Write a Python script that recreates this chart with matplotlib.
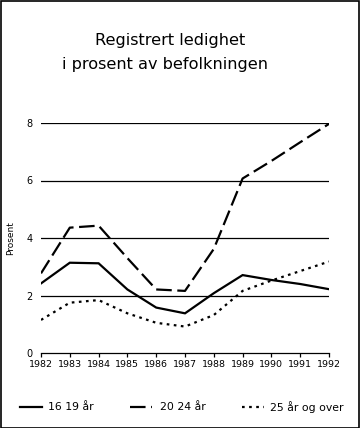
import matplotlib
matplotlib.use("Agg")
import matplotlib.pyplot as plt
from matplotlib.lines import Line2D
from matplotlib.patches import Rectangle

years = [1982, 1983, 1984, 1985, 1986, 1987, 1988, 1989, 1990, 1991, 1992]
age_16_19 = [2.42, 3.14, 3.12, 2.21, 1.58, 1.38, 2.08, 2.71, 2.54, 2.40, 2.22]
age_20_24 = [2.77, 4.36, 4.43, 3.30, 2.21, 2.16, 3.62, 6.07, 6.68, 7.33, 7.97]
age_25_over = [1.15, 1.75, 1.84, 1.38, 1.05, 0.92, 1.32, 2.16, 2.52, 2.85, 3.18]
labels = ["16 19 år", "20 24 år", "25 år og over"]
yticks = [0, 2, 4, 6, 8]

plt.rcParams['font.family'] = ['DejaVu Sans']

fig = plt.figure(figsize=(3.6, 4.28), dpi=100)
W, H = 360, 428
ax = fig.add_axes([41 / W, 1 - 353 / H, (329 - 41) / W, (353 - 123) / H])

styles = [dict(ls='-'), dict(ls=(0, (7, 2.5))), dict(ls=(0, (1.2, 2)))]
series = [age_16_19, age_20_24, age_25_over]
for s, st in zip(series, styles):
    ax.plot(years, s, color='black', lw=1.6, **st, solid_joinstyle='miter')

ax.set_xlim(1982, 1992)
ax.set_ylim(0, 8)
ax.set_yticks(yticks)
ax.set_yticklabels([str(v) for v in yticks], fontsize=7)
ax.set_xticks(years)
ax.set_xticklabels([str(y) for y in years], fontsize=6.8)
for v in yticks[1:]:
    ax.axhline(v, color='black', lw=0.9)
for sp in ['left', 'right', 'top']:
    ax.spines[sp].set_visible(False)
ax.spines['bottom'].set_linewidth(0.9)
ax.tick_params(axis='y', length=0, pad=6)
ax.tick_params(axis='x', direction='out', length=3, width=0.9, pad=2)
ax.set_ylabel("Prosent", fontsize=6.5, labelpad=8)

fig.text(170 / W, 1 - 40 / H, "Registrert ledighet", ha='center', va='center', fontsize=11.6)
fig.text(165 / W, 1 - 64 / H, "i prosent av befolkningen", ha='center', va='center', fontsize=11.6)

# legend
ly = 1 - 407 / H
items = [(20, 42, 48), (130, 152, 160), (242, 264, 270)]
for (x0, x1, tx), st, lab in zip(items, styles, labels):
    fig.add_artist(Line2D([x0 / W, x1 / W], [ly, ly], color='black', lw=1.6, **st))
    fig.text(tx / W, ly, lab, ha='left', va='center', fontsize=7.8)

fig.add_artist(Rectangle((0.5 / W, 0.5 / H), 1 - 1.5 / W, 1 - 1.5 / H, transform=fig.transFigure,
                         fill=False, edgecolor='black', lw=1.2))

fig.savefig("out.png", dpi=100)
